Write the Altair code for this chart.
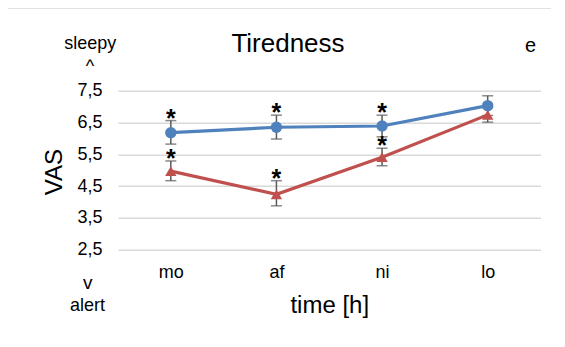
import altair as alt
import pandas as pd

times = ["mo", "af", "ni", "lo"]
blue_mean = [6.18, 6.35, 6.39, 7.03]
blue_upper = [6.56, 6.73, 6.73, 7.34]
blue_lower = [5.82, 5.98, 6.05, 6.72]
blue_sig = [True, True, True, False]
red_mean = [4.97, 4.24, 5.41, 6.74]
red_upper = [5.29, 4.67, 5.69, 6.97]
red_lower = [4.67, 3.88, 5.14, 6.51]
red_sig = [True, True, True, False]
y_ticks = [2.5, 3.5, 4.5, 5.5, 6.5, 7.5]

BLUE = "#4f81bd"
RED = "#c0504d"
GRAY = "#595959"
FONT = "Liberation Sans"

rows = []
for i, t in enumerate(times):
    rows.append(dict(time=t, group="A", mean=blue_mean[i], upper=blue_upper[i],
                     lower=blue_lower[i], sig=blue_sig[i]))
    rows.append(dict(time=t, group="B", mean=red_mean[i], upper=red_upper[i],
                     lower=red_lower[i], sig=red_sig[i]))
df = pd.DataFrame(rows)

W, H = 422.5, 159

xenc = alt.X("time:N", sort=times,
             scale=alt.Scale(type="point", padding=0.5),
             axis=alt.Axis(title="time [h]", titleFont=FONT, titleFontSize=24,
                           titleFontWeight="normal", titleColor="#000",
                           titleY=63, titleBaseline="alphabetic",
                           labelFont=FONT, labelFontSize=18, labelColor="#000",
                           labelBaseline="alphabetic", labelPadding=28,
                           ticks=False, tickSize=0, domain=False, grid=False,
                           labelAngle=0))
yscale = alt.Scale(domain=[2.5, 7.5], nice=False, zero=False)
yaxis = alt.Axis(title="VAS", titleFont=FONT, titleFontSize=24,
                 titleFontWeight="normal", titleColor="#000",
                 titleAngle=270, titleX=-64, titleY=81,
                 titleBaseline="middle", titleAlign="center",
                 values=y_ticks, labelOverlap=False,
                 labelExpr="replace(format(datum.value, '.1f'), '.', ',')",
                 labelFont=FONT, labelFontSize=18, labelColor="#000",
                 labelPadding=16, ticks=False, tickSize=0, domain=False,
                 grid=True, gridColor="#d9d9d9", gridWidth=1.5)


def yenc(field):
    return alt.Y(f"{field}:Q", scale=yscale, axis=yaxis)


color = alt.Color("group:N", scale=alt.Scale(domain=["A", "B"], range=[BLUE, RED]),
                  legend=None)
shape = alt.Shape("group:N", scale=alt.Scale(domain=["A", "B"],
                                             range=["circle", "triangle-up"]),
                  legend=None)

base = alt.Chart(df)

err = base.mark_rule(color=GRAY, strokeWidth=1.5).encode(
    x=xenc, y=yenc("lower"), y2="upper:Q")
cap_top = base.mark_tick(color=GRAY, thickness=1.5, size=11, orient="horizontal").encode(
    x=xenc, y=yenc("upper"))
cap_bot = base.mark_tick(color=GRAY, thickness=1.5, size=11, orient="horizontal").encode(
    x=xenc, y=yenc("lower"))

lines = base.mark_line(strokeWidth=3.2).encode(x=xenc, y=yenc("mean"), color=color,
                                               detail="group:N")
points = base.mark_point(filled=True, opacity=1, size=130).encode(
    x=xenc, y=yenc("mean"), color=color, shape=shape)

stars = base.transform_filter("datum.sig").mark_text(
    text="*", font=FONT, fontSize=25, fontWeight="bold", color="#000",
    baseline="alphabetic", dy=6).encode(
    x=xenc, y=yenc("upper"))

frame = alt.Chart(pd.DataFrame({"a": [0]})).mark_rect(
    fill=None, stroke="#d9d9d9", strokeWidth=1.2).encode(
    x=alt.value(-117.5), x2=alt.value(W + 200),
    y=alt.value(-82.5), y2=alt.value(H + 200))


def label(txt, x, y, size, align="center"):
    return alt.Chart(pd.DataFrame({"a": [0]})).mark_text(
        text=txt, font=FONT, fontSize=size, color="#000", align=align,
        baseline="alphabetic").encode(x=alt.value(x), y=alt.value(y))


annots = [
    label("Tiredness", 170, -38.4, 26),
    label("e", 412.6, -38.4, 20),
    label("sleepy", -27.7, -41.4, 18),
    label("^", -28, -18.2, 18),
    label("v", -30.3, 198.6, 19),
    label("alert", -30.5, 220, 18),
]

chart = alt.layer(err, cap_top, cap_bot, lines, points, stars, frame, *annots).properties(
    width=W, height=H,
    padding={"left": 110, "top": 82.7, "right": 10, "bottom": 85},
    autosize="none",
    background="white",
).configure_view(stroke=None)

chart.save("out.html", embed_options={"renderer": "svg", "actions": False})
